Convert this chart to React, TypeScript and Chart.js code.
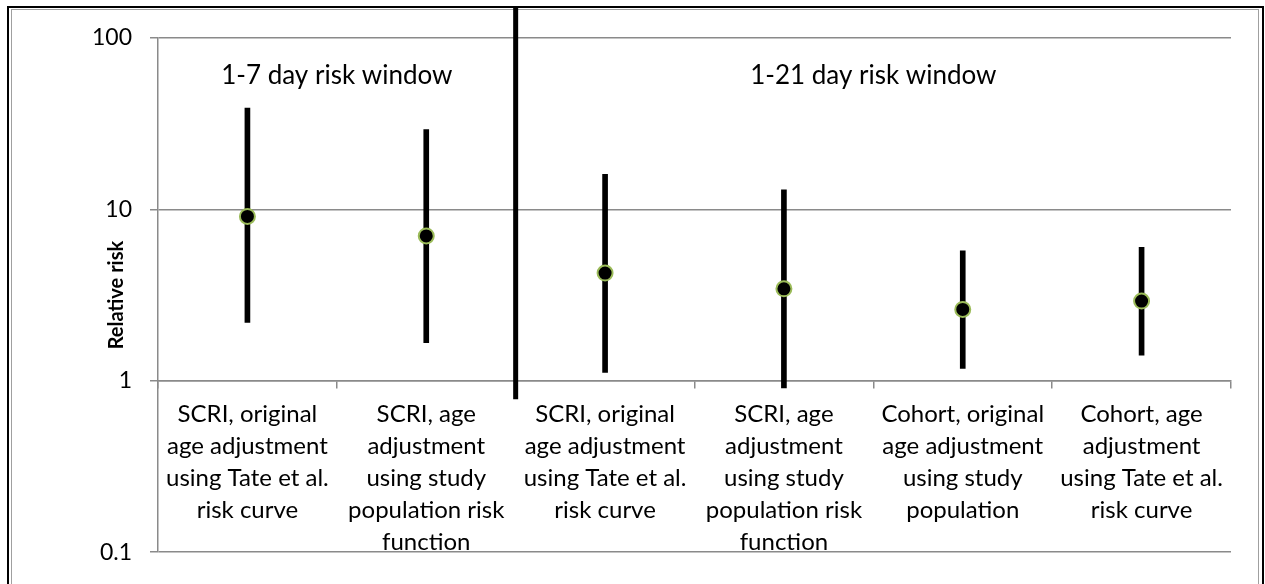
import React, { useEffect, useRef } from 'react';
import { Chart, registerables } from 'chart.js';

Chart.register(...registerables);

// ---- data ----
const CATEGORIES: string[][] = [
  ['SCRI, original', 'age adjustment', 'using Tate et al.', 'risk curve'],
  ['SCRI, age', 'adjustment', 'using study', 'population risk', 'function'],
  ['SCRI, original', 'age adjustment', 'using Tate et al.', 'risk curve'],
  ['SCRI, age', 'adjustment', 'using study', 'population risk', 'function'],
  ['Cohort, original', 'age adjustment', 'using study', 'population'],
  ['Cohort, age', 'adjustment', 'using Tate et al.', 'risk curve'],
];
const RR_POINT = [9.1, 7.0, 4.25, 3.44, 2.61, 2.92];
const RR_LOWER = [2.19, 1.67, 1.12, 0.91, 1.18, 1.41];
const RR_UPPER = [39, 29.2, 16.0, 13.0, 5.74, 6.0];
const Y_TICKS = [0.1, 1, 10, 100];
const Y_TICK_LABELS = ['0.1', '1', '10', '100'];
const WINDOW_LABELS = ['1-7 day risk window', '1-21 day risk window'];
const WINDOW_CENTERS = [0.5, 3.5]; // in category index units
const WINDOW_LABEL_VALUE = 60;
const DIVIDER_AT = 1.5; // between category 2 and 3
const DIVIDER_TOP = 150;
const DIVIDER_BOTTOM = 0.78;

const FONT = 'Lato, "Open Sans", sans-serif';
const GRID = '#8a8a8a';

const overlayPlugin = {
  id: 'overlay',
  afterDraw(chart: any) {
    const { ctx, scales } = chart;
    const x = scales.x;
    const y = scales.y;
    ctx.save();
    // divider
    const dx = x.getPixelForValue(DIVIDER_AT);
    ctx.strokeStyle = '#000';
    ctx.lineWidth = 5;
    ctx.beginPath();
    ctx.moveTo(dx, y.getPixelForValue(DIVIDER_TOP));
    ctx.lineTo(dx, y.getPixelForValue(DIVIDER_BOTTOM));
    ctx.stroke();
    // window labels
    ctx.fillStyle = '#000';
    ctx.font = `26px ${FONT}`;
    ctx.textAlign = 'center';
    ctx.textBaseline = 'middle';
    WINDOW_LABELS.forEach((t, i) => {
      ctx.fillText(t, x.getPixelForValue(WINDOW_CENTERS[i]), y.getPixelForValue(WINDOW_LABEL_VALUE));
    });
    ctx.restore();
  },
};

export default function App() {
  const ref = useRef<HTMLCanvasElement>(null);

  useEffect(() => {
    if (!ref.current) return;
    const chart = new Chart(ref.current, {
      type: 'bar',
      data: {
        labels: CATEGORIES as any,
        datasets: [
          {
            type: 'line',
            label: 'Relative risk',
            data: RR_POINT,
            showLine: false,
            pointRadius: 7.5,
            pointBackgroundColor: '#000',
            pointBorderColor: '#9bbb59',
            pointBorderWidth: 2,
            order: 0,
          } as any,
          {
            type: 'bar',
            label: '95% CI',
            data: RR_LOWER.map((l, i) => [l, RR_UPPER[i]]),
            backgroundColor: '#000',
            borderWidth: 0,
            barThickness: 5,
            order: 1,
          } as any,
        ],
      },
      options: {
        animation: false,
        responsive: false,
        maintainAspectRatio: false,
        layout: { padding: { left: 0, right: 34, top: 38, bottom: 29 } },
        plugins: { legend: { display: false }, tooltip: { enabled: false } },
        scales: {
          x: {
            type: 'category',
            position: { y: 1 } as any,
            offset: true,
            grid: { display: true, drawOnChartArea: false, drawTicks: true, tickLength: 7, color: GRID, lineWidth: 1.5, offset: true },
            border: { display: true, color: GRID, width: 1.5 },
            ticks: {
              color: '#000',
              font: { family: FONT, size: 24, lineHeight: 1.34 },
              padding: 10,
              maxRotation: 0,
              minRotation: 0,
              autoSkip: false,
            },
          },
          y: {
            type: 'logarithmic',
            position: 'left',
            min: 0.1,
            max: 100,
            afterFit: (s: any) => { s.width = 158; },
            afterBuildTicks: (s: any) => { s.ticks = Y_TICKS.map((v) => ({ value: v })); },
            grid: { color: GRID, lineWidth: 1.5, tickLength: 8, drawTicks: true },
            border: { display: true, color: GRID, width: 1.5 },
            ticks: {
              color: '#000',
              font: { family: FONT, size: 23 },
              padding: 18,
              callback: (v: any) => {
                const i = Y_TICKS.indexOf(Number(v));
                return i >= 0 ? Y_TICK_LABELS[i] : '';
              },
            },
            title: {
              display: true,
              text: 'Relative risk',
              color: '#000',
              font: { family: FONT, size: 20, weight: 'bold' },
              padding: { top: 105, bottom: 0 },
            },
          },
        },
      },
      plugins: [overlayPlugin],
    });
    return () => chart.destroy();
  }, []);

  return (
    <div style={{ position: 'absolute', left: 0, top: 0, width: 1265, height: 584, overflow: 'hidden', background: '#fff' }}>
      <div style={{ position: 'absolute', left: 7, top: 6, width: 1257, height: 700, border: '2px solid #000', boxSizing: 'border-box' }} />
      <div style={{ position: 'absolute', left: 11, top: 9, width: 1248, height: 700, border: '1px solid #a0a0a0', boxSizing: 'border-box' }} />
      <canvas ref={ref} width={1265} height={584} style={{ position: 'absolute', left: 0, top: 0, display: 'block' }} />
    </div>
  );
}
